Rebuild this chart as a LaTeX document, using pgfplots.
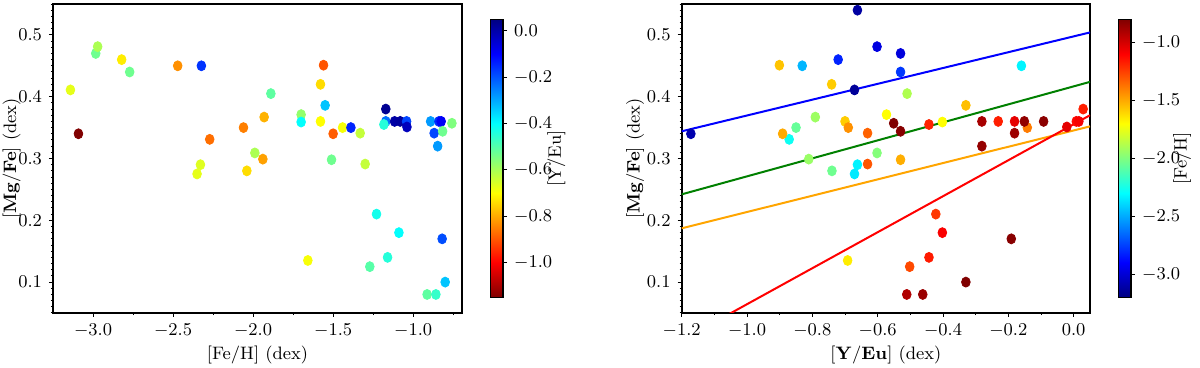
\documentclass[border=0pt]{standalone}
\usepackage{pgfplots}
\usepackage{pgfplotstable}
\pgfplotsset{compat=1.18}
\definecolor{mplorange}{RGB}{255,165,0}
\definecolor{mplgreen}{RGB}{0,128,0}
\pgfplotsset{
  colormap={myjet}{rgb255(0cm)=(0,0,128); rgb255(1cm)=(0,0,255); rgb255(3cm)=(0,255,255); rgb255(5cm)=(255,255,0); rgb255(7cm)=(255,0,0); rgb255(8cm)=(128,0,0)},
  colormap={revjet}{rgb255(0cm)=(128,0,0); rgb255(1cm)=(255,0,0); rgb255(3cm)=(255,255,0); rgb255(5cm)=(0,255,255); rgb255(7cm)=(0,0,255); rgb255(8cm)=(0,0,128)},
  every tick label/.append style={font=\fontsize{9}{10}\selectfont},
  every axis label/.append style={font=\fontsize{9}{10}\selectfont},
  panel/.style={
    scale only axis, height=154.5pt,
    ymin=0.05, ymax=0.55,
    ytick={0.1,0.2,0.3,0.4,0.5},
    minor ytick={0.05,0.06,...,0.555},
    tick pos=left, tick align=outside,
    major tick length=2pt, minor tick length=1.1pt,
    every tick/.style={black, line width=0.5pt},
    axis line style={line width=0.8pt},
    xticklabel style={/pgf/number format/.cd, fixed, fixed zerofill, precision=1},
    yticklabel style={/pgf/number format/.cd, fixed, fixed zerofill, precision=1},
    clip=true,
  },
  cbar/.style={
    scale only axis, width=6.3pt, height=139pt,
    at={(parent axis.north east)}, anchor=north west,
    xshift=5.7pt, yshift=-7.65pt,
    ytick pos=right, yticklabel pos=right, tick align=outside,
    major tick length=2pt,
    every tick/.style={black, line width=0.5pt},
    axis line style={line width=0.6pt},
    yticklabel style={/pgf/number format/.cd, fixed, fixed zerofill, precision=1},
  },
  dots/.style={scatter, only marks, mark=*, mark size=2.5pt,
    scatter/use mapped color={draw=mapped color, fill=mapped color},
    mark options={xscale=0.87}},
}
\pgfplotstableread{
feh yeu mg
-3.141 -0.671 0.411
-3.091 -1.172 0.340
-2.983 -0.530 0.470
-2.971 -0.602 0.481
-2.821 -0.721 0.460
-2.771 -0.530 0.440
-2.471 -0.831 0.450
-2.323 -0.160 0.450
-2.271 -0.871 0.331
-2.329 -0.662 0.290
-2.350 -0.671 0.275
-2.060 -0.850 0.350
-1.931 -0.791 0.367
-1.989 -0.602 0.309
-1.939 -0.811 0.299
-2.039 -0.740 0.280
-1.889 -0.510 0.405
-1.700 -0.573 0.371
-1.700 -0.402 0.359
-1.658 -0.692 0.135
-1.560 -0.901 0.451
-1.579 -0.741 0.420
-1.550 -0.330 0.386
-1.579 -0.700 0.360
-1.500 -0.891 0.340
-1.441 -0.690 0.350
-1.389 -0.142 0.350
-1.331 -0.631 0.341
-1.510 -0.530 0.298
-1.300 -0.631 0.291
-1.171 0.029 0.380
-1.171 -0.231 0.360
-1.183 -0.443 0.355
-1.116 0.008 0.360
-1.081 0.016 0.360
-1.041 -0.181 0.360
-1.039 -0.021 0.351
-0.891 -0.281 0.360
-0.839 -0.151 0.360
-0.825 -0.092 0.360
-0.758 -0.551 0.357
-0.869 -0.181 0.341
-0.816 -0.530 0.344
-0.847 -0.281 0.320
-1.229 -0.422 0.210
-1.089 -0.402 0.180
-1.160 -0.443 0.140
-1.271 -0.502 0.125
-0.819 -0.191 0.170
-0.800 -0.330 0.100
-0.913 -0.511 0.080
-0.858 -0.462 0.080
}\data
\begin{document}
\begin{tikzpicture}
\path[use as bounding box] (0,0) rectangle (600pt,-184pt);
% Left panel
\begin{axis}[panel, name=L,
  at={(26.5pt,-156.5pt)}, anchor=south west, width=204.5pt,
  xmin=-3.25, xmax=-0.695,
  xtick={-3,-2.5,-2,-1.5,-1},
  minor xtick={-2.75,-2.25,-1.75,-1.25,-0.75},
  xlabel={[Fe/H] (dex)},
  ylabel={$\mathbf{[Mg/Fe]}$ (dex)},
  xlabel style={at={(axis description cs:0.5,-0.135)}, anchor=center},
  ylabel style={at={(axis description cs:-0.101,0.5)}, anchor=center},
  colormap name=revjet,
  point meta min=-1.15, point meta max=0.05,
  colorbar,
  colorbar style={cbar,
    ytick={-1.0,-0.8,-0.6,-0.4,-0.2,0.0}},
]
\addplot[dots, point meta=\thisrow{yeu}] table[x=feh, y=mg] {\data};
\end{axis}
\node[rotate=90, font=\fontsize{9}{10}\selectfont] at ([xshift=47.2pt]L.east) {[Y/Eu]};
% Right panel
\begin{axis}[panel, name=R,
  at={(340.85pt,-156.5pt)}, anchor=south west, width=204.15pt,
  xmin=-1.2, xmax=0.05,
  xtick={-1.2,-1.0,-0.8,-0.6,-0.4,-0.2,0.0},
  minor xtick={-1.1,-0.9,-0.7,-0.5,-0.3,-0.1},
  xlabel={$\mathbf{[Y/Eu]}$ (dex)},
  ylabel={$\mathbf{[Mg/Fe]}$ (dex)},
  xlabel style={at={(axis description cs:0.5,-0.135)}, anchor=center},
  ylabel style={at={(axis description cs:-0.114,0.5)}, anchor=center},
  colormap name=myjet,
  point meta min=-3.2, point meta max=-0.8,
  colorbar,
  colorbar style={cbar,
    ytick={-3.0,-2.5,-2.0,-1.5,-1.0}},
]
\addplot[dots, point meta=\thisrow{feh}] table[x=yeu, y=mg] {\data};
\addplot[dots, point meta=explicit] coordinates {(-0.662,0.540) [-3.12]};
\addplot[blue, line width=1pt] coordinates {(-1.2,0.344) (0.05,0.504)};
\addplot[mplgreen, line width=1pt] coordinates {(-1.2,0.242) (0.05,0.424)};
\addplot[mplorange, line width=1pt] coordinates {(-1.2,0.187) (0.05,0.352)};
\addplot[red, line width=1pt] coordinates {(-1.2,0.006) (0.05,0.370)};
\end{axis}
\node[rotate=90, font=\fontsize{9}{10}\selectfont] at ([xshift=46pt]R.east) {[Fe/H]};
\end{tikzpicture}
\end{document}
